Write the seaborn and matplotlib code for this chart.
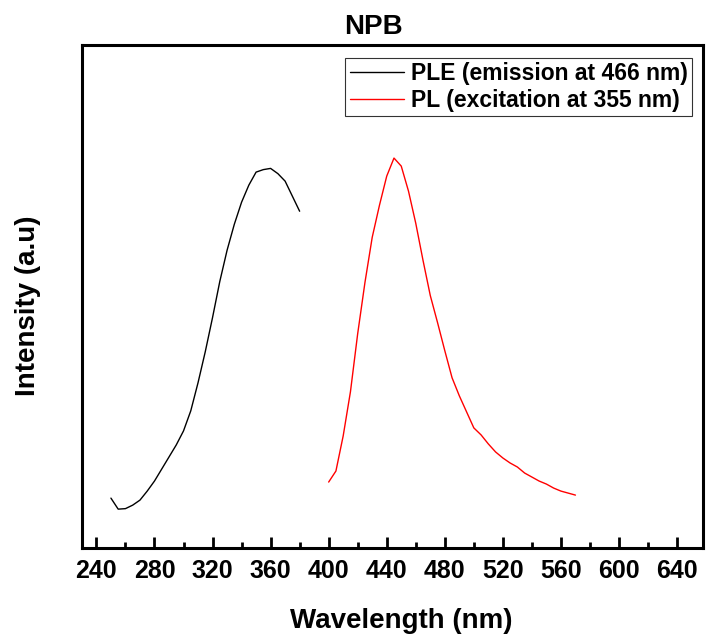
import numpy as np
import pandas as pd
import matplotlib
matplotlib.use("Agg")
import matplotlib.pyplot as plt
import seaborn as sns

sns.set_style("ticks")
plt.rcParams['font.family'] = ['Liberation Sans', 'DejaVu Sans']
plt.rcParams['text.color'] = 'black'
plt.rcParams['axes.labelcolor'] = 'black'
plt.rcParams['xtick.color'] = 'black'

# PLE spectrum (emission at 466 nm)
ple_wl = list(range(250, 385, 5))
ple_int = [50, 39, 39.5, 43, 48, 57, 67, 79, 91, 103, 117, 137, 165, 196,
           230, 266, 297, 323, 345, 362, 375, 377.5, 378.7, 373.5, 366, 351, 336]

# PL spectrum (excitation at 355 nm)
pl_wl = list(range(400, 575, 5))
pl_int = [66, 77, 112, 156, 214, 265, 310, 342, 371, 389, 381, 356, 324, 287,
          252, 225, 197, 170, 152, 136, 120, 113, 104, 96, 90, 85, 81, 75,
          71, 67, 64, 60, 57, 55, 53]

ple = pd.DataFrame({'wl': ple_wl, 'inten': ple_int})
pl = pd.DataFrame({'wl': pl_wl, 'inten': pl_int})

fig = plt.figure(figsize=(7.06, 6.39), dpi=100)
ax = fig.add_axes([0.116, 0.142, 0.88, 0.788])

sns.lineplot(x='wl', y='inten', data=ple, color='black', lw=1,
             label='PLE (emission at 466 nm)', ax=ax)
sns.lineplot(x='wl', y='inten', data=pl, color='red', lw=1,
             label='PL (excitation at 355 nm)', ax=ax)

ax.set_xlim(230, 658)
ax.set_ylim(0, 502)
ax.set_xticks(range(240, 660, 40))
ax.set_xticks(range(260, 660, 40), minor=True)
ax.set_yticks([])
ax.tick_params(axis='x', which='major', direction='in', length=8, width=2,
               labelsize=18, pad=8)
ax.tick_params(axis='x', which='minor', direction='in', length=4, width=2)
for lbl in ax.get_xticklabels():
    lbl.set_fontweight('bold')
for s in ax.spines.values():
    s.set_visible(True)
    s.set_linewidth(2.2)
    s.set_color('black')

ax.set_xlabel('Wavelength (nm)', fontsize=20, fontweight='bold')
ax.xaxis.set_label_coords(0.514, -0.118)
ax.set_ylabel('Intensity (a.u)', fontsize=20, fontweight='bold')
ax.yaxis.set_label_coords(-0.066, 0.481)
ax.set_title('NPB', fontsize=20, fontweight='bold', x=0.469, pad=8)

leg = ax.legend(loc='upper right', bbox_to_anchor=(0.982, 0.974),
                fontsize=16.5, frameon=True, fancybox=False, handlelength=2.35,
                borderpad=0.2, labelspacing=0.15, handletextpad=0.3,
                borderaxespad=0)
leg.get_frame().set_edgecolor('black')
leg.get_frame().set_linewidth(0.8)
for t in leg.get_texts():
    t.set_fontweight('bold')

fig.savefig('out.png', dpi=100)
